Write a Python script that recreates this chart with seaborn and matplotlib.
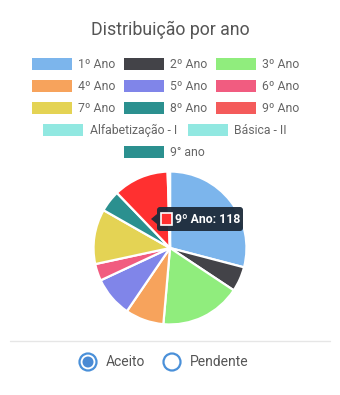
import matplotlib
matplotlib.use("Agg")
import matplotlib.pyplot as plt
import seaborn as sns
from matplotlib.patches import Rectangle, Circle, FancyBboxPatch, Polygon

sns.set_theme(style="white")
plt.rcParams['font.family'] = ['Roboto', 'DejaVu Sans']

title = "Distribuição por ano"
categories = ["1º Ano", "2º Ano", "3º Ano", "4º Ano", "5º Ano", "6º Ano",
              "7º Ano", "8º Ano", "9º Ano", "Alfabetização - I", "Básica - II", "9° ano"]
values = [293, 53, 172, 82, 86, 36, 117, 46, 118, 3, 2, 0]
legend_colors = ["#7CB5EC", "#434348", "#90ED7D", "#F7A35C", "#8085E9", "#F15C80",
                 "#E4D354", "#2B908F", "#F45B5B", "#91E8E1", "#91E8E1", "#2B908F"]
hovered = "9º Ano"
hover_color = "#FF3030"
radio_labels = ["Aceito", "Pendente"]

W, H = 340, 395
fig = plt.figure(figsize=(W / 100, H / 100), dpi=100)
fig.patch.set_facecolor("white")

# pie axes (center 170,248, radius 78 px)
cx, cy, r = 170, 248, 78
pax = fig.add_axes([(cx - r) / W, (H - cy - r) / H, 2 * r / W, 2 * r / H])
pie_colors = [hover_color if c == hovered else col for c, col in zip(categories, legend_colors)]
pax.pie(values, colors=pie_colors, startangle=90, counterclock=False, radius=1,
        wedgeprops=dict(edgecolor="white", linewidth=1.6))
pax.set_aspect("equal")
pax.set_xlim(-1.02, 1.02)
pax.set_ylim(-1.02, 1.02)
pax.axis("off")

# overlay axes in pixel coordinates
ox = fig.add_axes([0, 0, 1, 1], zorder=5)
ox.set_xlim(0, W)
ox.set_ylim(H, 0)
ox.axis("off")
ox.patch.set_alpha(0)

ox.text(170, 30, title, ha="center", va="center", fontsize=12.8, color="#555555")

# legend layout
legend_pos = [
    (32, 64), (124, 64), (216, 64),
    (32, 86), (124, 86), (216, 86),
    (32, 108), (124, 108), (216, 108),
    (43, 130), (188, 130),
    (124, 152),
]
for (x, y), lab, col in zip(legend_pos, categories, legend_colors):
    ox.add_patch(Rectangle((x, y - 6), 40, 12, facecolor=col, edgecolor="none"))
    ox.text(x + 46.5, y + 0.5, lab, ha="left", va="center", fontsize=8.8, color="#666666")

# tooltip
idx = categories.index(hovered)
bx0, by0, bx1, by1 = 157, 207, 243, 231
ox.add_patch(FancyBboxPatch((bx0 + 3, by0 + 3), bx1 - bx0 - 6, by1 - by0 - 6,
                            boxstyle="round,pad=3", facecolor="#1d2b3a", edgecolor="none", alpha=0.95))
ox.add_patch(Polygon([(bx0, 214), (bx0, 224), (151, 219)], closed=True,
                     facecolor="#1d2b3a", edgecolor="none", alpha=0.95))
ox.add_patch(Rectangle((161, 213), 11, 12, facecolor=hover_color, edgecolor="white", linewidth=1.2))
ox.text(175, 219.5, f"{categories[idx]}: {values[idx]}", ha="left", va="center",
        fontsize=8.8, color="white", fontweight="bold")

# separator line
ox.plot([10, 330], [340.5, 340.5], color="#e6e6e6", linewidth=1)

# radio buttons
radio_x = [88, 172]
for i, (rx, lab) in enumerate(zip(radio_x, radio_labels)):
    ox.add_patch(Circle((rx, 362), 8.5, facecolor="white", edgecolor="#4a90d9", linewidth=1.6))
    if i == 0:
        ox.add_patch(Circle((rx, 362), 5.5, facecolor="#4a8ad4", edgecolor="none"))
    ox.text(rx + 17.5, 362.5, lab, ha="left", va="center", fontsize=10, color="#555555")

fig.savefig("out.png", dpi=100, facecolor="white")
